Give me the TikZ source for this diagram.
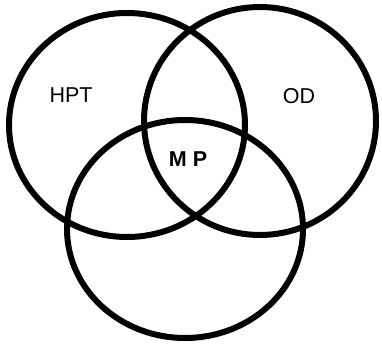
\documentclass[tikz,border=0pt]{standalone}
\usepackage{fontspec}
\setmainfont{Liberation Sans}
\usetikzlibrary{positioning}

\begin{document}
\begin{tikzpicture}[x=1pt, y=-1pt, line width=6pt,
    setlabel/.style={font=\fontsize{21.5}{26}\selectfont, inner sep=0pt}]
  \useasboundingbox (0,0) rectangle (382,347);
  % the three sets
  \draw (127,125) ellipse [x radius=118, y radius=112];
  \draw (260,121) ellipse [x radius=116, y radius=114];
  \draw (185,229) ellipse [x radius=118, y radius=109];
  % labels
  \node[setlabel] (hpt) at (71,95)  {HPT};
  \node[setlabel] (od)  at (299,96) {OD};
  \node[setlabel, font=\fontsize{21.5}{26}\selectfont\bfseries] (mp) at (188,159) {M P};
\end{tikzpicture}
\end{document}
